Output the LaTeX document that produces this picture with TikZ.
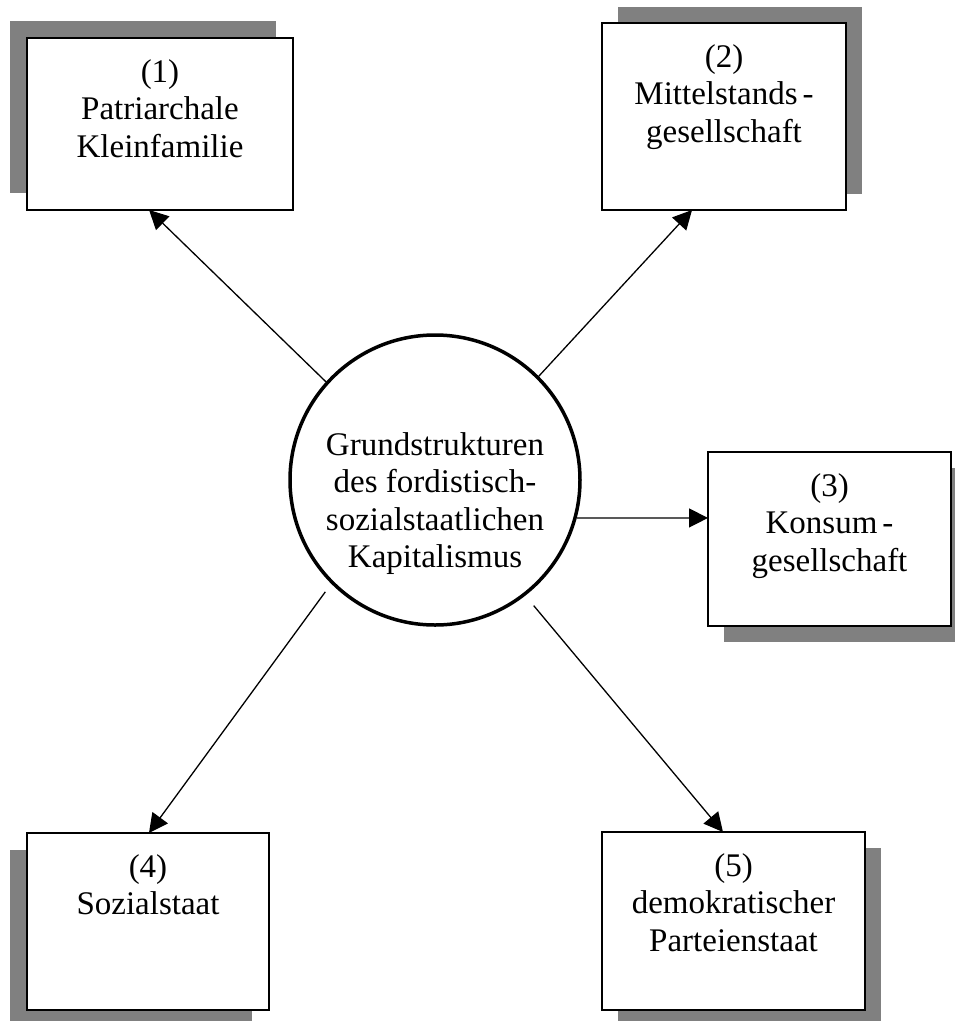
\documentclass[tikz,border=0pt]{standalone}
\usepackage{fontspec}
\setmainfont{Liberation Serif}
\usetikzlibrary{arrows.meta,calc,shadows}
\definecolor{shadowgray}{RGB}{128,128,128}
\newcommand{\boxtxt}[3]{\parbox[t][#2][t]{#1}{\centering\rule{0pt}{44pt}#3}}
\tikzset{
  x=1pt, y=-1pt,
  txt/.style={font=\fontsize{33}{37.5}\selectfont},
  boxnode/.style={draw, line width=2pt, fill=white, inner sep=0pt, outer sep=0pt,
    anchor=north west, txt},
  shd/.style 2 args={general shadow={fill=shadowgray, opacity=1, shadow xshift=#1, shadow yshift=#2}},
  conn/.style={line width=1.3pt, -{Triangle[length=19pt,width=19pt]}}
}
\begin{document}
\begin{tikzpicture}
\useasboundingbox (0,0) rectangle (955,1021);
\clip (0,0) rectangle (955,1021);

\node[boxnode, shd={-17pt}{17pt}] (b1) at (27,38)
  {\boxtxt{266pt}{172pt}{(1)\\Patriarchale\\Kleinfamilie}};
\node[boxnode, shd={16pt}{16pt}] (b2) at (602,23)
  {\boxtxt{244pt}{187pt}{(2)\\Mittelstands\kern5pt-\\gesellschaft}};
\node[boxnode, shd={16pt}{-16pt}] (b3) at (708,452)
  {\boxtxt{243pt}{174pt}{(3)\\Konsum\kern5pt-\\gesellschaft}};
\node[boxnode, shd={-17pt}{-17pt}] (b4) at (27,833)
  {\boxtxt{242pt}{177pt}{(4)\\Sozialstaat}};
\node[boxnode, shd={16pt}{-16pt}] (b5) at (602,832)
  {\boxtxt{263pt}{178pt}{(5)\\demokratischer\\Parteienstaat}};

\node[circle, draw, line width=3.5pt, fill=white, minimum size=290pt, inner sep=0pt, txt] (c) at (435,480)
  {\raisebox{-30pt}[0pt][0pt]{\parbox{260pt}{\centering Grundstrukturen\\des fordistisch-\\sozialstaatlichen\\Kapitalismus}}};

\draw[conn] (c.138.6) -- ($(b1.south west)!0.459!(b1.south east)$);
\draw[conn] (c.45) -- ($(b2.south west)!0.369!(b2.south east)$);
\draw[conn] (c.-15) -- ($(b3.north west)!0.379!(b3.south west)$);
\draw[conn, shorten <=10pt] (c.225.5) -- ($(b4.north west)!0.504!(b4.north east)$);
\draw[conn, shorten <=13pt] (c.-52.3) -- ($(b5.north west)!0.46!(b5.north east)$);
\end{tikzpicture}
\end{document}
